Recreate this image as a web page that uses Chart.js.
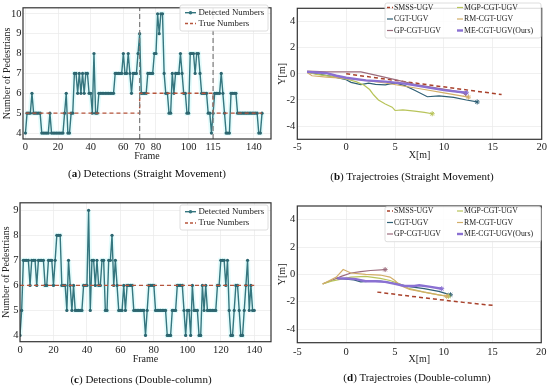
<!DOCTYPE html>
<html>
<head>
<meta charset="utf-8">
<script src="https://cdn.jsdelivr.net/npm/chart.js@4.4.0/dist/chart.umd.min.js"></script>
<style>
body{margin:0;background:#fff;width:550px;height:389px;position:relative;overflow:hidden;font-family:"Liberation Serif","Times New Roman",serif;}
canvas{position:absolute;}
.cap{position:absolute;font-size:11px;color:#111;white-space:nowrap;transform:translateX(-50%);line-height:13px;}
</style>
</head>
<body>
<canvas id="chartA" width="275" height="170" style="left:0;top:0"></canvas>
<canvas id="chartB" width="275" height="170" style="left:275px;top:0"></canvas>
<canvas id="chartC" width="275" height="180" style="left:0;top:195px"></canvas>
<canvas id="chartD" width="275" height="180" style="left:275px;top:195px"></canvas>
<div class="cap" style="left:147px;top:167px">(<b>a</b>) Detections (Straight Movement)</div>
<div class="cap" style="left:412px;top:170px">(<b>b</b>) Trajectroies (Straight Movement)</div>
<div class="cap" style="left:141px;top:373px">(<b>c</b>) Detections (Double-column)</div>
<div class="cap" style="left:417px;top:371px">(<b>d</b>) Trajectroies (Double-column)</div>
<script>
// ---- data: detections
const frameTicksA = [0, 20, 40, 60, 70, 80, 100, 115, 140];
const countTicksA = [4, 5, 6, 7, 8, 9, 10];
const detectedA = [
  4,5,5,5,6,5,5,5,5,5,
  4,4,4,4,4,5,4,4,4,4,
  4,4,4,4,5,6,4,4,5,5,
  7,7,6,7,6,7,6,7,7,6,
  6,5,8,5,5,6,6,6,6,6,
  6,6,6,6,6,7,7,7,7,7,
  8,7,7,8,7,6,7,7,7,8,
  9,6,6,6,6,7,7,7,7,8,
  8,10,9,10,10,7,6,6,5,5,
  7,6,7,7,7,8,7,6,6,5,
  5,8,8,8,7,8,8,7,6,6,
  6,6,5,5,4,5,6,6,6,6,
  7,6,5,4,4,4,6,6,6,6,
  5,5,5,5,5,5,5,5,5,5,
  5,5,5,4,4,5
];
const trueFramesA = [0, 70, 70, 115, 115, 145];
const trueValuesA = [5, 5, 6, 6, 5, 5];
const markFramesA = [70, 115];

const frameTicksC = [0, 20, 40, 60, 80, 100, 120, 140];
const countTicksC = [4, 5, 6, 7, 8, 9];
const detectedC = [
  4,5,7,7,7,7,6,7,7,7,
  6,7,7,7,7,6,6,7,7,7,
  6,7,8,8,8,6,6,6,5,7,
  6,5,6,5,5,5,5,5,6,6,
  6,9,5,7,7,6,7,6,6,7,
  7,5,5,7,7,8,6,7,6,5,
  5,5,6,5,6,6,6,6,5,5,
  5,5,5,5,5,4,5,6,6,6,
  6,5,5,5,5,5,5,5,4,4,
  4,5,5,5,6,6,6,6,5,4,
  5,5,4,6,5,5,5,4,4,6,
  5,6,5,5,5,5,5,5,6,6,
  7,7,7,6,7,5,4,4,5,6,
  6,5,4,4,5,6,7,5,6,5,
  5
];
const trueFramesC = [0, 140];
const trueValuesC = [6, 6];

// ---- data: trajectories
const xTicksT = [-5, 0, 5, 10, 15, 20];
const yTicksT = [-4, -2, 0, 2, 4];

const smssBX = [0, 3, 6, 9, 12, 15.9];
const smssBY = [0, -0.3, -0.6, -0.9, -1.2, -1.58];
const cgtBX = [-4, -3, -1.5, 0, 0.5, 1.5, 2.3, 3, 4, 5, 6, 7, 8.3, 9.5, 11, 12.3, 13.4];
const cgtBY = [0.15, 0.0, -0.2, -0.45, -0.65, -0.82, -0.72, -0.8, -0.85, -0.7, -0.9, -1.25, -1.75, -1.68, -1.8, -2.0, -2.15];
const mgpBX = [-4, -3, -1.5, 0, 1, 1.8, 2.4, 2.8, 3.3, 4, 4.7, 5, 5.8, 7, 8, 8.8];
const mgpBY = [0.1, -0.05, -0.2, -0.4, -0.6, -0.85, -1.2, -1.6, -2.0, -2.3, -2.55, -2.8, -2.75, -2.85, -2.95, -3.05];
const rmBX = [-4, -3.5, -2, 0, 2, 4, 6, 8, 10, 12.5];
const rmBY = [0.1, -0.15, -0.25, -0.35, -0.5, -0.7, -0.95, -1.2, -1.45, -1.78];
const gpBX = [-4, -2, 0, 1.5, 3, 5, 7, 9, 11, 12.2];
const gpBY = [0.2, 0.15, 0.15, 0.15, -0.1, -0.45, -0.8, -1.05, -1.3, -1.5];
const meBX = [-4, -3, -2, -1, 0, 2, 4, 6, 8, 10, 12.3];
const meBY = [0.15, 0.1, 0.05, -0.15, -0.3, -0.5, -0.6, -0.75, -1.0, -1.25, -1.45];

const smssDX = [3.2, 6, 9, 12, 15.2];
const smssDY = [-1.3, -1.55, -1.8, -2.05, -2.28];
const cgtDX = [-1, 0, 0.8, 1.5, 2.5, 3.5, 4.5, 5.5, 6.5, 8, 9.5, 10.7];
const cgtDY = [-0.28, -0.35, -0.4, -0.55, -0.5, -0.5, -0.6, -0.75, -0.9, -1.05, -1.25, -1.5];
const gpDX = [-2.4, -1.5, -0.5, 0.5, 1.5, 2.5, 4];
const gpDY = [-0.7, -0.45, -0.15, 0.1, 0.2, 0.28, 0.35];
const mgpDX = [-2.4, -1.5, -0.5, 0.5, 2, 3.5, 4.5, 5.5, 6.5, 8, 9.5, 10.5];
const mgpDY = [-0.7, -0.5, -0.35, -0.2, -0.15, -0.3, -0.45, -0.7, -1.05, -1.3, -1.5, -1.6];
const rmDX = [-2.4, -1, -0.3, 0.5, 2, 3.5, 4.5, 5, 5.5, 6.5, 8, 9.5, 10.3];
const rmDY = [-0.7, -0.2, 0.35, 0.1, 0.0, -0.05, -0.2, -0.45, -0.8, -1.1, -1.3, -1.5, -1.6];
const meDX = [-0.9, 0, 1, 2, 3, 4, 5, 6, 7, 7.5, 8.5, 9.8];
const meDY = [-0.3, -0.3, -0.35, -0.5, -0.5, -0.55, -0.7, -0.85, -0.85, -0.8, -0.9, -1.05];

const methodNames = ['SMSS-UGV', 'MGP-CGT-UGV', 'CGT-UGV', 'RM-CGT-UGV', 'GP-CGT-UGV', 'ME-CGT-UGV(Ours)'];

// ---- styles
const teal = '#35767f';
const redDash = '#b6553c';
const colors = {
  smss: '#a8412b', cgt: '#2e5f75', mgp: '#b8c45a', rm: '#d2ae68', gp: '#9c6b7c', me: '#8a70d2'
};

Chart.defaults.font.family = '"Liberation Serif", "Times New Roman", serif';
Chart.defaults.color = '#222';
Chart.defaults.animation = false;

const pts = (xs, ys) => xs.map((x, i) => ({ x: x, y: ys[i] }));

// box around plot area
const framePlugin = {
  id: 'frame',
  afterDatasetsDraw(chart) {
    const a = chart.chartArea, ctx = chart.ctx;
    ctx.save();
    ctx.strokeStyle = '#333';
    ctx.lineWidth = 1.2;
    ctx.strokeRect(a.left, a.top, a.right - a.left, a.bottom - a.top);
    ctx.restore();
  }
};

// legend inside the plot, in a grid
const legendPlugin = {
  id: 'boxLegend',
  afterDraw(chart, args, o) {
    if (!o.labels) return;
    const ctx = chart.ctx;
    ctx.save();
    ctx.fillStyle = 'rgba(255,255,255,0.85)';
    ctx.strokeStyle = '#d6d6d6';
    ctx.lineWidth = 0.8;
    ctx.beginPath();
    if (ctx.roundRect) ctx.roundRect(o.box[0], o.box[1], o.box[2], o.box[3], 2);
    else ctx.rect(o.box[0], o.box[1], o.box[2], o.box[3]);
    ctx.fill();
    ctx.stroke();
    ctx.font = o.fontSize + 'px "Liberation Serif", serif';
    ctx.textBaseline = 'middle';
    o.labels.forEach((label, i) => {
      const ds = chart.data.datasets.find(d => d.label === label);
      const col = i % o.cols, row = Math.floor(i / o.cols);
      const x = o.colX[col], y = o.rowY[row];
      ctx.strokeStyle = ds.borderColor;
      ctx.lineWidth = ds.borderWidth;
      ctx.setLineDash(ds.borderDash && ds.borderDash.length ? [3, 2] : []);
      ctx.beginPath();
      ctx.moveTo(x, y);
      ctx.lineTo(x + o.lineW, y);
      ctx.stroke();
      ctx.setLineDash([]);
      if (ds.legendMarker) {
        ctx.fillStyle = ds.borderColor;
        ctx.beginPath();
        ctx.arc(x + o.lineW / 2, y, 1.8, 0, Math.PI * 2);
        ctx.fill();
      }
      ctx.fillStyle = '#222';
      ctx.fillText(label, x + o.lineW + o.gap, y);
    });
    ctx.restore();
  }
};

function axis(min, max, ticks, title, fit, tickPad, titlePad, isX) {
  return {
    type: 'linear', min: min, max: max,
    afterBuildTicks: s => { s.ticks = ticks.map(v => ({ value: v })); },
    afterFit: s => { if (isX) s.height = fit; else s.width = fit; },
    grid: { color: '#ececec', lineWidth: 0.8, drawTicks: false },
    border: { display: false },
    ticks: { padding: tickPad, font: { size: 10.5 }, color: '#222', maxRotation: 0, autoSkip: false },
    title: { display: true, text: title, font: { size: 10 }, padding: titlePad, color: '#222' }
  };
}

function detectionChart(id, detected, trueF, trueV, marks, xr, yr, xTicks, yTicks, pad, fits, legend) {
  const det = detected.map((v, i) => ({ x: i, y: v }));
  const datasets = [];
  marks.forEach(m => datasets.push({
    data: [{ x: m, y: yr[0] }, { x: m, y: yr[1] }],
    borderColor: '#7a7a7a', borderWidth: 1.2, borderDash: [5, 3], pointRadius: 0, showLine: true
  }));
  datasets.push({
    label: 'True Numbers', data: pts(trueF, trueV),
    borderColor: redDash, borderWidth: 1.4, borderDash: [4, 3], pointRadius: 0, showLine: true
  });
  datasets.push({
    label: 'Detected Numbers', data: det, legendMarker: true,
    borderColor: teal, backgroundColor: '#2d6670', borderWidth: 1.4,
    pointRadius: 1.6, pointBorderWidth: 0, showLine: true
  });
  datasets.push({
    data: det, borderColor: 'rgba(205,250,250,0.55)', borderWidth: 5, pointRadius: 0, showLine: true
  });
  return new Chart(document.getElementById(id), {
    type: 'scatter',
    data: { datasets: datasets },
    options: {
      responsive: false,
      layout: { padding: pad },
      plugins: { legend: { display: false }, tooltip: { enabled: false }, boxLegend: legend },
      scales: {
        x: axis(xr[0], xr[1], xTicks, 'Frame', fits.x, fits.xPad, { top: 0, bottom: fits.xTitle }, true),
        y: axis(yr[0], yr[1], yTicks, 'Number of Pedestrians', fits.y, fits.yPad, { top: fits.yTitle, bottom: 0 }, false)
      }
    },
    plugins: [framePlugin, legendPlugin]
  });
}

function trajChart(id, sets, pad, fits, legend) {
  const keys = ['me', 'rm', 'mgp', 'gp', 'cgt', 'smss'];
  const names = { smss: 'SMSS-UGV', cgt: 'CGT-UGV', mgp: 'MGP-CGT-UGV', rm: 'RM-CGT-UGV', gp: 'GP-CGT-UGV', me: 'ME-CGT-UGV(Ours)' };
  const datasets = keys.map(k => {
    const data = pts(sets[k][0], sets[k][1]);
    const last = data.length - 1;
    return {
      label: names[k], data: data,
      borderColor: colors[k], backgroundColor: colors[k],
      borderWidth: k === 'me' ? 2.4 : (k === 'smss' ? 1.5 : 1.2),
      borderDash: k === 'smss' ? [4, 3] : [],
      pointStyle: 'star',
      pointRadius: c => (k !== 'smss' && c.dataIndex === last) ? 2.5 : 0,
      pointBorderWidth: 1,
      showLine: true
    };
  });
  return new Chart(document.getElementById(id), {
    type: 'scatter',
    data: { datasets: datasets },
    options: {
      responsive: false,
      layout: { padding: pad },
      plugins: { legend: { display: false }, tooltip: { enabled: false }, boxLegend: legend },
      scales: {
        x: axis(-5, 20, xTicksT, 'X[m]', fits.x, fits.xPad, { top: 0, bottom: fits.xTitle }, true),
        y: axis(-5, 5, yTicksT, 'Y[m]', fits.y, fits.yPad, { top: fits.yTitle, bottom: 0 }, false)
      }
    },
    plugins: [framePlugin, legendPlugin]
  });
}

detectionChart('chartA', detectedA, trueFramesA, trueValuesA, markFramesA,
  [-1.5, 150.5], [3.7, 10.3], frameTicksA, countTicksA,
  { top: 3, right: 3, left: 0, bottom: 0 },
  { x: 31, y: 23, xPad: 2, yPad: 1.5, xTitle: 8, yTitle: 1.5 },
  { labels: ['Detected Numbers', 'True Numbers'], cols: 1, box: [180, 5, 88, 26], colX: [185], rowY: [12.7, 23.5], lineW: 11, gap: 2.5, fontSize: 8.8 });

detectionChart('chartC', detectedC, trueFramesC, trueValuesC, [],
  [0, 150], [3.75, 9.3], frameTicksC, countTicksC,
  { top: 5.7, right: 3, left: 0, bottom: 0 },
  { x: 33.3, y: 20, xPad: 2, yPad: 1.5, xTitle: 10, yTitle: 0 },
  { labels: ['Detected Numbers', 'True Numbers'], cols: 1, box: [180, 10, 88, 25], colX: [185], rowY: [16.7, 28], lineW: 11, gap: 2.5, fontSize: 8.8 });

trajChart('chartB', {
  smss: [smssBX, smssBY], cgt: [cgtBX, cgtBY], mgp: [mgpBX, mgpBY],
  rm: [rmBX, rmBY], gp: [gpBX, gpBY], me: [meBX, meBY]
}, { top: 3.3, right: 8.3, left: 0, bottom: 0 },
  { x: 30.7, y: 22.3, xPad: 1.7, yPad: 2, xTitle: 9, yTitle: 1.5 },
  { labels: methodNames, cols: 2, box: [110, 3, 156, 35], colX: [112, 182], rowY: [7.5, 19, 30.5], lineW: 6, gap: 1, fontSize: 7.8 });

trajChart('chartD', {
  smss: [smssDX, smssDY], cgt: [cgtDX, cgtDY], mgp: [mgpDX, mgpDY],
  rm: [rmDX, rmDY], gp: [gpDX, gpDY], me: [meDX, meDY]
}, { top: 11, right: 8.3, left: 0, bottom: 0 },
  { x: 32.3, y: 22.3, xPad: 3.5, yPad: 2, xTitle: 10, yTitle: 1.5 },
  { labels: methodNames, cols: 2, box: [110, 11.7, 156, 35], colX: [112, 182], rowY: [16, 27.5, 39], lineW: 6, gap: 1, fontSize: 7.8 });
</script>
</body>
</html>
